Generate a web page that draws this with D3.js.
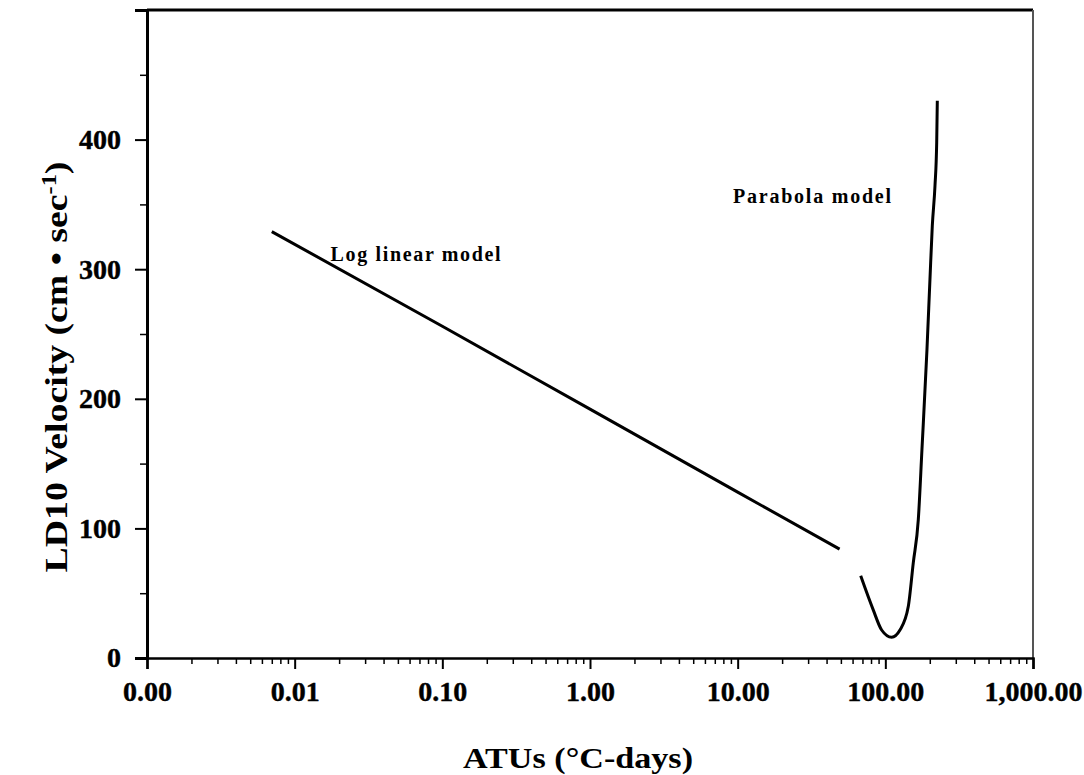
<!DOCTYPE html>
<html>
<head>
<meta charset="utf-8">
<script src="https://cdn.jsdelivr.net/npm/d3@7"></script>
<style>
  html, body { margin: 0; padding: 0; background: #fff; }
  svg { display: block; }
  text { font-family: "Liberation Serif", "Times New Roman", serif; font-weight: bold; fill: #000; }
</style>
</head>
<body>
<svg id="chart" width="1084" height="775"></svg>
<script>
// ---- data ----
const logLinearX = [0.007, 0.1, 1, 10, 49];
const logLinearY = [329, 256, 192, 128, 84];

const parabolaX = [68.1, 82.8, 94.4, 110.4, 125.6, 143, 154.6, 167.2, 177, 191.4, 200.5, 208, 216.9, 222.8, 224.9];
const parabolaY = [63.4, 37.1, 21.6, 16.0, 21.6, 39.7, 73.4, 106.7, 160.8, 238, 292, 333.5, 364.4, 398, 430];

const xMajorTicks = [0.001, 0.01, 0.1, 1, 10, 100, 1000];
const yMajorTicks = [0, 100, 200, 300, 400];
const yMinorTicks = [50, 150, 250, 350, 450];

const xDomain = [0.001, 1000];
const yDomain = [0, 500];

const labels = [
  { text: "Log linear model", x: 0.0175, y: 306, len: 170 },
  { text: "Parabola model", x: 9.3, y: 351, len: 158 }
];

// ---- drawing ----
const svg = d3.select("#chart");
const L = 147, R = 1033, T = 10, B = 658;

const x = d3.scaleLog().domain(xDomain).range([L, R]);
const y = d3.scaleLinear().domain(yDomain).range([B, T]);

// minor x ticks (2..9 per decade)
const xMinor = [];
for (let d = -3; d < 3; d++) {
  for (let k = 2; k <= 9; k++) xMinor.push(k * Math.pow(10, d));
}

// frame: top and right
svg.append("line").attr("x1", L).attr("x2", R).attr("y1", T).attr("y2", T)
  .attr("stroke", "#000").attr("stroke-width", 3);
svg.append("line").attr("x1", R).attr("x2", R).attr("y1", T).attr("y2", B)
  .attr("stroke", "#555").attr("stroke-width", 2);

// x axis
const fmt = d3.format(",.2f");
const xAxis = d3.axisBottom(x).tickValues(xMajorTicks).tickFormat(fmt).tickSize(11).tickPadding(12);
const gx = svg.append("g").attr("transform", `translate(0,${B})`).call(xAxis);
gx.select(".domain").attr("stroke-width", 2.5);
gx.selectAll(".tick line").attr("stroke-width", 2);
gx.selectAll(".tick text").style("font-size", "28px").style("stroke", "#000").style("stroke-width", 0.4);

const xAxisMinor = d3.axisBottom(x).tickValues(xMinor).tickFormat("").tickSize(6);
const gxm = svg.append("g").attr("transform", `translate(0,${B})`).call(xAxisMinor);
gxm.select(".domain").remove();
gxm.selectAll(".tick line").attr("stroke-width", 1.5);

// y axis
const yAxis = d3.axisLeft(y).tickValues(yMajorTicks).tickFormat(d3.format("d")).tickSize(12).tickPadding(14);
const gy = svg.append("g").attr("transform", `translate(${L},0)`).call(yAxis);
gy.select(".domain").attr("stroke-width", 3);
gy.selectAll(".tick line").attr("stroke-width", 2);
gy.selectAll(".tick text").style("font-size", "28px").style("stroke", "#000").style("stroke-width", 0.4);

const yAxisMinor = d3.axisLeft(y).tickValues(yMinorTicks).tickFormat("").tickSize(7);
const gym = svg.append("g").attr("transform", `translate(${L},0)`).call(yAxisMinor);
gym.select(".domain").remove();
gym.selectAll(".tick line").attr("stroke-width", 1.5);

// curves
const line = d3.line().x(d => x(d[0])).y(d => y(d[1]));
svg.append("path")
  .datum(logLinearX.map((v, i) => [v, logLinearY[i]]))
  .attr("d", line)
  .attr("fill", "none").attr("stroke", "#000").attr("stroke-width", 3);

svg.append("path")
  .datum(parabolaX.map((v, i) => [v, parabolaY[i]]))
  .attr("d", line.curve(d3.curveMonotoneX))
  .attr("fill", "none").attr("stroke", "#000").attr("stroke-width", 3);

// annotations
labels.forEach(l => {
  svg.append("text")
    .attr("x", x(l.x)).attr("y", y(l.y))
    .attr("textLength", l.len).attr("lengthAdjust", "spacing")
    .style("font-size", "20px")
    .text(l.text);
});

// axis titles
svg.append("text")
  .attr("x", 578).attr("y", 768)
  .attr("text-anchor", "middle")
  .attr("textLength", 230).attr("lengthAdjust", "spacingAndGlyphs")
  .style("font-size", "30px")
  .text("ATUs (°C-days)");

const ytg = svg.append("g").attr("transform", "translate(67,367) rotate(-90)");
const yt = ytg.append("text")
  .attr("text-anchor", "middle")
  .style("font-size", "31px");
yt.append("tspan").text("LD10 Velocity (cm • sec");
yt.append("tspan").attr("dy", "-11").style("font-size", "20px").text("-1");
yt.append("tspan").attr("dy", "11").text(")");
const w = yt.node().getBBox().width;
yt.attr("transform", `scale(${411 / w},1)`);
</script>
</body>
</html>
